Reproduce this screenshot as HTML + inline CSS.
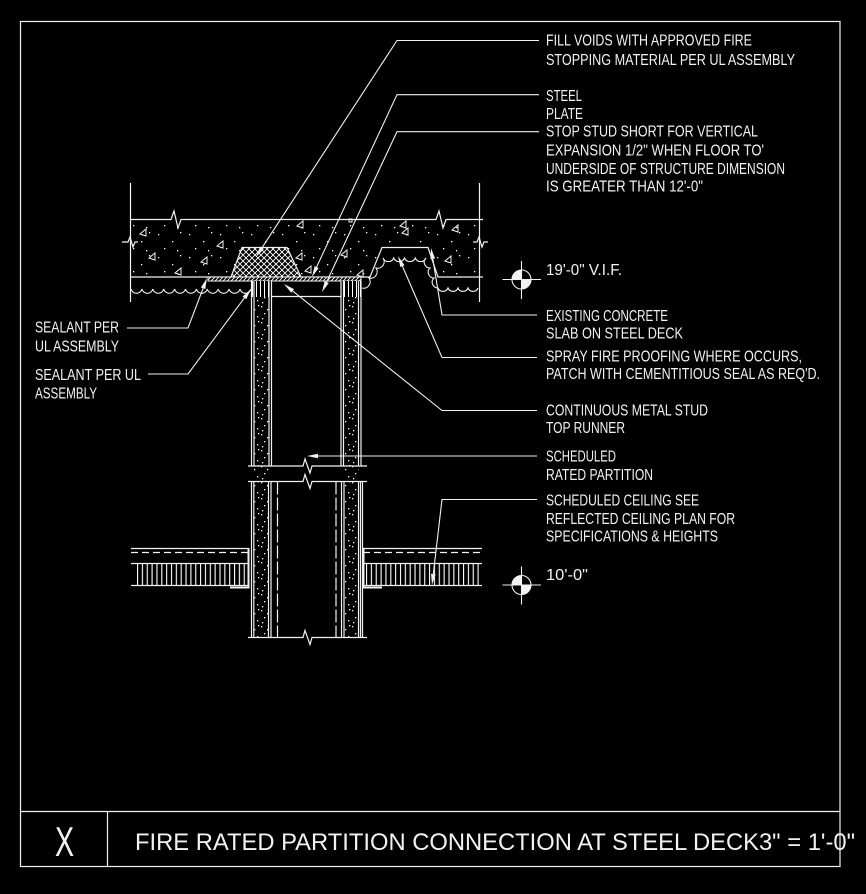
<!DOCTYPE html>
<html><head><meta charset="utf-8"><style>
html,body{margin:0;padding:0;background:#000;}
svg{display:block;}
text{font-family:"Liberation Sans",sans-serif;fill:#f2f2f2;font-size:15.5px;}
</style></head><body>
<svg width="866" height="894" viewBox="0 0 866 894" xmlns="http://www.w3.org/2000/svg">
<defs>
<pattern id="xh" width="6" height="6" patternUnits="userSpaceOnUse"><path d="M0,0 L6,6 M6,0 L0,6" stroke="#fff" stroke-width="0.9"/></pattern>
<pattern id="ph" width="4" height="4" patternUnits="userSpaceOnUse"><path d="M-1,5 L5,-1 M-1,1 L1,-1 M3,5 L5,3" stroke="#fff" stroke-width="0.9"/></pattern>
<pattern id="vh" width="4" height="10" patternUnits="userSpaceOnUse"><rect x="0" y="0" width="1" height="10" fill="#fff"/></pattern>
<pattern id="vt" x="137" width="4.85" height="10" patternUnits="userSpaceOnUse"><rect x="0" y="0" width="1.1" height="10" fill="#fff"/></pattern>
<pattern id="vt2" x="366" width="4.85" height="10" patternUnits="userSpaceOnUse"><rect x="0" y="0" width="1.1" height="10" fill="#fff"/></pattern>
<pattern id="cd" width="31" height="23" patternUnits="userSpaceOnUse"><g fill="#fff"><rect x="3" y="4" width="1.3" height="1.3"/><rect x="17" y="11" width="1.3" height="1.3"/><rect x="25" y="2" width="1.3" height="1.3"/><rect x="9" y="18" width="1.3" height="1.3"/><rect x="22" y="20" width="1.3" height="1.3"/></g></pattern>
<pattern id="gy" width="13" height="16" patternUnits="userSpaceOnUse"><g fill="#fff"><rect x="1" y="2" width="1.3" height="1.3"/><rect x="7" y="5" width="1.3" height="1.3"/><rect x="11" y="1" width="1.3" height="1.3"/><rect x="4" y="9" width="1.3" height="1.3"/><rect x="10" y="12" width="1.3" height="1.3"/><rect x="2" y="14" width="1.3" height="1.3"/></g></pattern>
</defs>

<g stroke="#f2f2f2" stroke-width="1.2" fill="none">
<!-- frame -->
<rect x="20.5" y="21.5" width="819.5" height="845"/>
<line x1="20" y1="811.5" x2="840" y2="811.5"/>
<line x1="107.5" y1="811" x2="107.5" y2="867"/>

<!-- slab -->
<path d="M130.5,183 V302 M479.5,183 V302"/>
<path d="M130,219.5 H171 L174,211 L178,228 L181,219.5 H436 L439,211 L443,228 L446,219.5 H483"/>
<path d="M130,277 H370 L382,247.5 H428 L438,277 H483"/>
<path d="M122,242 H128 L130,237 L133,247 L135,242 H138"/>
<path d="M473,242 H477 L479,237 L482,247 L484,242 H488"/>
</g>
<path d="M131,219.5 H479 V277 H438 L428,247.5 H382 L370,277 H131 Z" fill="url(#cd)"/>
<g stroke="#f2f2f2" stroke-width="1" fill="none">
<polygon points="140,234 146,229 146,236"/>
<polygon points="149,258 155,253 155,260"/>
<polygon points="217,246 223,241 223,248"/>
<polygon points="201,262 207,257 207,264"/>
<polygon points="175,273 181,268 181,275"/>
<polygon points="297,226 303,221 303,228"/>
<polygon points="296,258 302,253 302,260"/>
<polygon points="305,271 311,266 311,273"/>
<polygon points="341,255 347,250 347,257"/>
<polygon points="357,275 363,270 363,277"/>
<polygon points="400,226 406,221 406,228"/>
<polygon points="402,233 408,228 408,235"/>
<polygon points="452,230 458,225 458,232"/>
<polygon points="445,261 451,256 451,263"/>
<rect x="349" y="219" width="3" height="3"/>
</g>

<!-- spray fireproofing scallops -->
<g stroke="#f2f2f2" stroke-width="1.1" fill="none">
<path d="M131,289 a5.6,5.6 0 0 0 10.9,0 a5.6,5.6 0 0 0 10.9,0 a5.6,5.6 0 0 0 10.9,0 a5.6,5.6 0 0 0 10.9,0 a5.6,5.6 0 0 0 10.9,0 a5.6,5.6 0 0 0 10.9,0 a5.6,5.6 0 0 0 10.9,0 a5.6,5.6 0 0 0 10.9,0 a5.6,5.6 0 0 0 10.9,0 a5.6,5.6 0 0 0 10.9,0 a5.6,5.6 0 0 0 10.9,0"/>
<path d="M362,288 a6.5,6.5 0 0 0 7,-10 a6.5,6.5 0 0 0 7,-10 a6.5,6.5 0 0 0 7,-10 a5.8,5.8 0 0 0 10.75,0 a5.8,5.8 0 0 0 10.75,0 a5.8,5.8 0 0 0 10.75,0 a5.8,5.8 0 0 0 10.75,0 a5.8,5.8 0 0 0 4,10 a5.8,5.8 0 0 0 4,10 a5.8,5.8 0 0 0 4,10 a5.4,5.4 0 0 0 10,0 a5.4,5.4 0 0 0 10,0 a5.4,5.4 0 0 0 10,0 a5.4,5.4 0 0 0 10,0"/>
</g>

<!-- firestop and plate -->
<polygon points="231,277 242,247.5 287,247.5 301,277" fill="#000"/>
<polygon points="231,277 242,247.5 287,247.5 301,277" fill="url(#xh)" stroke="#f2f2f2" stroke-width="1.2"/>
<rect x="208" y="277" width="153" height="4" fill="#000"/>
<rect x="208" y="277" width="153" height="4" fill="url(#ph)" stroke="#f2f2f2" stroke-width="1"/>

<!-- wall -->
<rect x="254" y="297" width="14.5" height="340" fill="url(#gy)"/>
<rect x="344" y="297" width="14.5" height="340" fill="url(#gy)"/>
<rect x="252" y="281" width="19" height="16" fill="#000"/>
<rect x="341.5" y="281" width="20" height="16" fill="#000"/>
<rect x="252" y="281" width="19" height="16" fill="url(#vh)"/>
<rect x="341.5" y="281" width="20" height="16" fill="url(#vh)"/>
<g stroke="#f2f2f2" stroke-width="1.2" fill="none">
<path d="M251.5,281 V466 M254,281 V466 M269,281 V466 M271.5,281 V466"/>
<path d="M341,281 V466 M343.5,281 V466 M358.5,281 V466 M361,281 V466"/>
<path d="M271.5,296.5 H341"/>
<path d="M248,466 H303 L305,459 L310,473 L312,466 H367"/>
<path d="M248,481.5 H303 L305,474.5 L310,488.5 L312,481.5 H367"/>
<path d="M251.5,481.5 V637 M253.8,481.5 V637 M268.5,481.5 V637 M271,481.5 V637"/>
<path d="M341.5,481.5 V637 M344,481.5 V637 M358.5,481.5 V637 M360.5,481.5 V637 M362.5,481.5 V637"/>
<path d="M277.5,481.5 V637 M336,481.5 V637" stroke-dasharray="13 3"/>
<path d="M248,637.5 H303 L305,630.5 L310,644.5 L312,637.5 H367"/>

<!-- ceiling -->
<path d="M131,548.5 H249 M131,563.5 H249 M131,585.5 H249"/>
<path d="M131,552.5 H249" stroke-dasharray="7 4"/>
<path d="M363,548.5 H482 M363,563.5 H482 M363,585.5 H482"/>
<path d="M363,552.5 H482" stroke-dasharray="7 4"/>
<path d="M248.5,548 V587.5 H230" stroke-width="2"/>
<path d="M363.5,548 V587.5 H382" stroke-width="2"/>
</g>
<rect x="136" y="563.5" width="112" height="22" fill="url(#vt)"/>
<rect x="365.5" y="563.5" width="116" height="22" fill="url(#vt2)"/>

<!-- leaders -->
<g stroke="#f2f2f2" stroke-width="1.1" fill="none">
<polyline points="539,40.5 397,40.5 262,247.8"/>
<polyline points="539,94.7 397,94.7 316.6,267"/>
<polyline points="539,131.7 397,131.7 326.6,282"/>
<polyline points="537,315 442,315 432.8,258.9"/>
<polyline points="537,357.5 442,357.5 402.4,266.1"/>
<polyline points="537,410.5 442,410.5 292.6,290.9"/>
<polyline points="537,456 318,456"/>
<polyline points="537,499.5 442,499.5 433.3,574"/>
<polyline points="127,328 188,328 203.1,288.3"/>
<polyline points="148,374 188,374 244.5,297.8"/>
</g>
<g fill="#f2f2f2">
<polygon points="256,257 260.1,246.5 263.9,249"/>
<polygon points="312,277 314.6,266.1 318.7,268"/>
<polygon points="322,292 324.6,281.1 328.8,283"/>
<polygon points="431,248 435.1,258.5 430.5,259.2"/>
<polygon points="398,256 404.5,265.2 400.3,267"/>
<polygon points="284,284 294,289.1 291.2,292.7"/>
<polygon points="307,456 318,453.7 318,458.3"/>
<polygon points="432,585 431,573.8 435.6,574.4"/>
<polygon points="207,278 205.2,289.1 200.9,287.5"/>
<polygon points="251,289 246.3,299.2 242.6,296.5"/>
</g>

<!-- elevation markers -->
<g stroke="#f2f2f2" stroke-width="1.1" fill="none">
<circle cx="521.5" cy="279.5" r="9.5"/>
<path d="M502.5,279.5 H541 M521.5,261 V299"/>
<circle cx="521.5" cy="585" r="9.5"/>
<path d="M502.5,585 H541 M521.5,566.5 V604.5"/>
</g>
<g fill="#f2f2f2">
<path d="M521.5,279.5 L512,279.5 A9.5,9.5 0 0 1 521.5,270 Z"/>
<path d="M521.5,279.5 L531,279.5 A9.5,9.5 0 0 1 521.5,289 Z"/>
<path d="M521.5,585 L512,585 A9.5,9.5 0 0 1 521.5,575.5 Z"/>
<path d="M521.5,585 L531,585 A9.5,9.5 0 0 1 521.5,594.5 Z"/>
</g>

<!-- labels -->
<text x="546" y="45.7" textLength="206" lengthAdjust="spacingAndGlyphs">FILL VOIDS WITH APPROVED FIRE</text>
<text x="546" y="65" textLength="249" lengthAdjust="spacingAndGlyphs">STOPPING MATERIAL PER UL ASSEMBLY</text>
<text x="546" y="101" textLength="36" lengthAdjust="spacingAndGlyphs">STEEL</text>
<text x="546" y="119" textLength="37" lengthAdjust="spacingAndGlyphs">PLATE</text>
<text x="546" y="136.7" textLength="212" lengthAdjust="spacingAndGlyphs">STOP STUD SHORT FOR VERTICAL</text>
<text x="546" y="155.5" textLength="218" lengthAdjust="spacingAndGlyphs">EXPANSION 1/2" WHEN FLOOR TO'</text>
<text x="546" y="174" textLength="239" lengthAdjust="spacingAndGlyphs">UNDERSIDE OF STRUCTURE DIMENSION</text>
<text x="546" y="191.7" textLength="157" lengthAdjust="spacingAndGlyphs">IS GREATER THAN 12'-0"</text>
<text x="546" y="275" textLength="76" lengthAdjust="spacingAndGlyphs">19'-0" V.I.F.</text>
<text x="546" y="321" textLength="122" lengthAdjust="spacingAndGlyphs">EXISTING CONCRETE</text>
<text x="546" y="338.3" textLength="137" lengthAdjust="spacingAndGlyphs">SLAB ON STEEL DECK</text>
<text x="546" y="361.7" textLength="256" lengthAdjust="spacingAndGlyphs">SPRAY FIRE PROOFING WHERE OCCURS,</text>
<text x="546" y="379" textLength="274" lengthAdjust="spacingAndGlyphs">PATCH WITH CEMENTITIOUS SEAL AS REQ'D.</text>
<text x="546" y="415.7" textLength="162" lengthAdjust="spacingAndGlyphs">CONTINUOUS METAL STUD</text>
<text x="546" y="433" textLength="79" lengthAdjust="spacingAndGlyphs">TOP RUNNER</text>
<text x="546" y="461.7" textLength="70" lengthAdjust="spacingAndGlyphs">SCHEDULED</text>
<text x="546" y="480" textLength="107" lengthAdjust="spacingAndGlyphs">RATED PARTITION</text>
<text x="546" y="505.7" textLength="153" lengthAdjust="spacingAndGlyphs">SCHEDULED CEILING SEE</text>
<text x="546" y="524" textLength="189" lengthAdjust="spacingAndGlyphs">REFLECTED CEILING PLAN FOR</text>
<text x="546" y="541.7" textLength="172" lengthAdjust="spacingAndGlyphs">SPECIFICATIONS &amp; HEIGHTS</text>
<text x="546" y="580" textLength="42" lengthAdjust="spacingAndGlyphs">10'-0"</text>
<text x="35" y="332.7" textLength="84" lengthAdjust="spacingAndGlyphs">SEALANT PER</text>
<text x="35" y="351.7" textLength="84" lengthAdjust="spacingAndGlyphs">UL ASSEMBLY</text>
<text x="35" y="380" textLength="106" lengthAdjust="spacingAndGlyphs">SEALANT PER UL</text>
<text x="35" y="398.3" textLength="62" lengthAdjust="spacingAndGlyphs">ASSEMBLY</text>

<!-- title -->
<text transform="translate(64.5,856) scale(0.68,1)" text-anchor="middle" style="font-size:42px">X</text>
<text x="135" y="850" textLength="720" lengthAdjust="spacingAndGlyphs" style="font-size:24px">FIRE RATED PARTITION CONNECTION AT STEEL DECK3" = 1'-0"</text>
</svg>
</body></html>
